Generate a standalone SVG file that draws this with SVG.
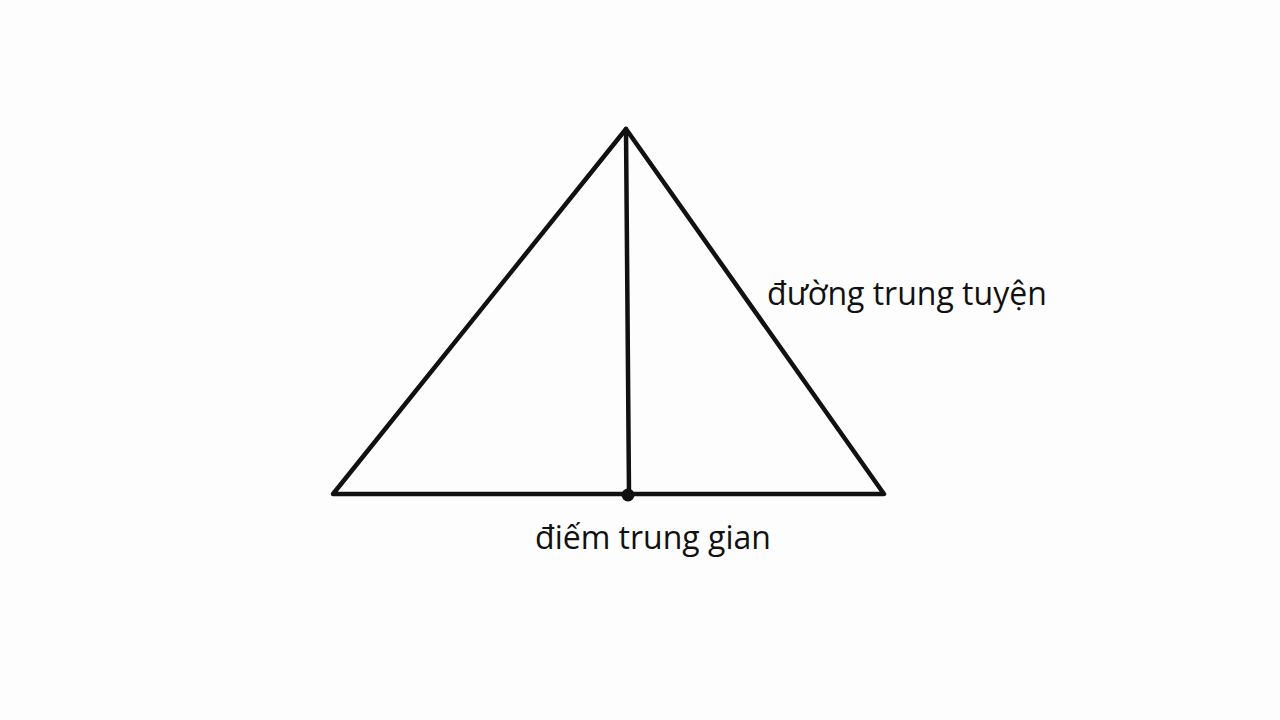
<svg xmlns="http://www.w3.org/2000/svg" width="1280" height="720" viewBox="0 0 1280 720">
<style>
.ln{stroke:#111;stroke-width:4.5;fill:none;stroke-linecap:round;stroke-linejoin:round}
.lb{font-family:"Open Sans","Noto Sans","DejaVu Sans",sans-serif;font-size:32px;fill:#111}
</style>
<rect width="1280" height="720" fill="#fdfdfd"/>
<g id="triangle">
<path class="ln" d="M626,129 L884,494 L333,494 Z"/>
</g>
<g id="connectors">
<line class="ln" x1="626" y1="129" x2="629" y2="494"/>
</g>
<g id="midpoint">
<circle cx="628" cy="495" r="6.5" fill="#111"/>
</g>
<g id="label-median">
<text class="lb" x="767" y="305">đường trung tuyện</text>
</g>
<g id="label-midpoint">
<text class="lb" x="535" y="549">điếm trung gian</text>
</g>
</svg>
